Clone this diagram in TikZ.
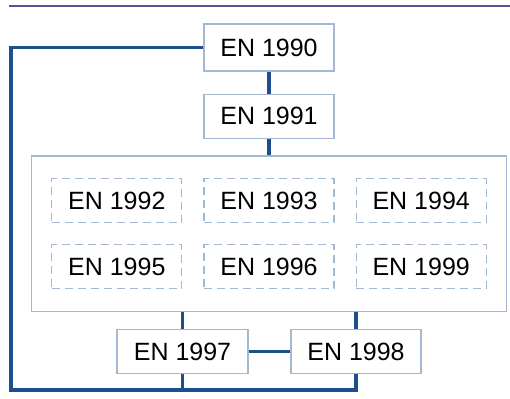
\documentclass[tikz,border=0pt]{standalone}
\usepackage{fontspec}
\setmainfont{Liberation Sans}
\usetikzlibrary{positioning,fit}

\definecolor{boxline}{HTML}{A3B8D2}
\definecolor{linkline}{HTML}{1D4F8E}
\definecolor{rule}{HTML}{5B4F9E}

\begin{document}
\begin{tikzpicture}[
    x = 1pt, y = -1pt, % one unit = one pixel
    node distance = 21pt and 21pt, % gap between boxes
    font = \fontsize{25}{29}\selectfont,
    link/.style = {draw = linkline, line width = 3.3pt}
    ]

    \tikzset{part/.style={
    draw = boxline,
    line width = 1.2pt,
    fill = white,
    minimum width = 130pt,
    minimum height = 44pt,
    inner sep = 0pt
    },
    subpart/.style={part, dashed, dash pattern = on 8pt off 5pt}
    }

    \useasboundingbox (0,0) rectangle (510,398);
    \draw[rule, line width = 1.3pt] (9,6) -- (510,6);

    \node[part, minimum height = 47pt] (e1990) at (269,47.5) {EN 1990};
    \node[part] (e1991) [below=22pt of e1990] {EN 1991};

    % eurocodes 2 to 9
    \node[subpart] (e1993) at (269,200.5) {EN 1993};
    \node[subpart] (e1992) [left=of e1993] {EN 1992};
    \node[subpart] (e1994) [right=of e1993] {EN 1994};
    \node[subpart] (e1996) [below=of e1993] {EN 1996};
    \node[subpart] (e1995) [left=of e1996] {EN 1995};
    \node[subpart] (e1999) [right=of e1996] {EN 1999};
    \node[draw = boxline, line width = 1.2pt, inner xsep = 19.5pt, inner ysep = 22pt,
          fit = (e1992) (e1999)] (grp) {};

    \node[part, minimum width = 131pt] (e1997) at (182.5,351.5) {EN 1997};
    \node[part] (e1998) at (356,351.5) {EN 1998};
    \coordinate (loop) at (11,390);

    \path[link] (e1990) -- (e1991);
    \path[link] (e1991) -- (grp);
    \path[link] (e1997.north) -- (e1997.north |- grp.south);
    \path[link] (e1998.north) -- (e1998.north |- grp.south);
    \path[link] (e1997) -- (e1998);
    \path[link] (e1990.west) -| (loop) -| (e1998.south);
    \path[link] (e1997.south) -- (e1997.south |- loop);
\end{tikzpicture}
\end{document}
